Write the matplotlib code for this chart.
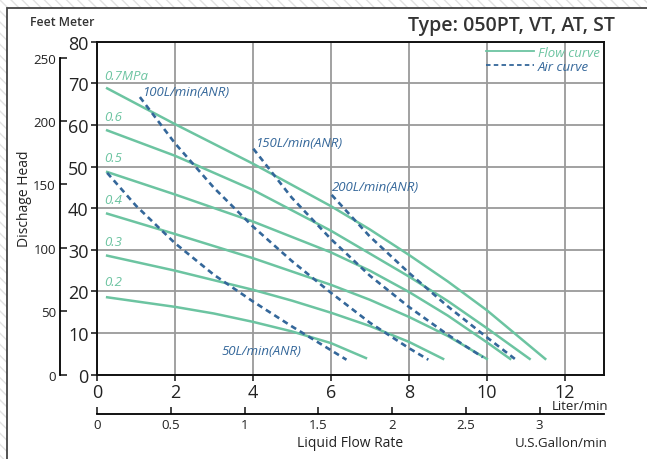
import numpy as np
import matplotlib
matplotlib.use('Agg')
import matplotlib.pyplot as plt
from matplotlib.lines import Line2D
from matplotlib.patches import Rectangle

plt.rcParams['font.family'] = ['Open Sans', 'DejaVu Sans']

# flow curves (x: L/min, y: m) per air pressure
flow_labels = ['0.7MPa', '0.6', '0.5', '0.4', '0.3', '0.2']
flow_x = [
    [0.26, 2, 4, 6, 7, 8, 9, 10, 11.5],
    [0.26, 2, 4, 6, 8, 9, 10, 11.1],
    [0.26, 2, 4, 6, 7, 8, 9, 10, 10.6],
    [0.26, 2, 4, 6, 7, 8, 9, 10],
    [0.26, 2, 4, 5, 6, 7, 8, 8.88],
    [0.26, 2, 3, 4, 5, 6, 6.9],
]
flow_y = [
    [68.8, 60.2, 50.7, 40.5, 34.9, 28.8, 22.4, 15.5, 3.8],
    [58.7, 52.6, 44.4, 34.6, 23.6, 17.7, 11.2, 3.8],
    [48.7, 43.3, 36.8, 29.4, 25.0, 19.9, 14.2, 7.8, 3.8],
    [38.7, 33.8, 28.0, 21.6, 18.0, 13.9, 9.3, 3.8],
    [28.6, 25.0, 20.4, 17.8, 14.9, 11.7, 7.9, 3.8],
    [18.6, 16.3, 14.7, 12.7, 10.4, 7.6, 4.0],
]
flow_label_pos = [(0.18, 71.8), (0.18, 62.1), (0.18, 52.1), (0.18, 42.0), (0.18, 32.1), (0.18, 22.3)]

# air consumption curves
air_labels = ['50L/min(ANR)', '100L/min(ANR)', '150L/min(ANR)', '200L/min(ANR)']
air_x = [
    [0.26, 1, 2, 3, 4, 5, 6, 6.4],
    [1.1, 2, 3, 4, 5, 6, 7, 8, 8.5],
    [4.01, 5, 6, 7, 8, 9, 9.9],
    [6.02, 7, 8, 9, 10, 10.72],
]
air_y = [
    [48.5, 40.6, 31.6, 24.0, 17.6, 11.6, 5.9, 3.6],
    [66.7, 55.6, 44.9, 35.6, 27.3, 19.7, 12.5, 6.4, 3.6],
    [54.3, 42.5, 32.6, 23.8, 16.3, 9.6, 4.2],
    [43.2, 33.2, 24.5, 16.4, 9.0, 3.8],
]
air_label_pos = [(3.2, 5.8), (1.15, 68.1), (4.05, 55.7), (6.02, 45.2)]

x_ticks = [0, 2, 4, 6, 8, 10, 12]
y_ticks = [0, 10, 20, 30, 40, 50, 60, 70, 80]
feet_ticks = [0, 50, 100, 150, 200, 250]
gal_ticks = [0, 0.5, 1, 1.5, 2, 2.5, 3]
gal_labels = ['0', '0.5', '1', '1.5', '2', '2.5', '3']

green = '#6cc4a1'
blue = '#34679a'
grid_c = '#9a9a9a'

fig = plt.figure(figsize=(6.47, 4.60), dpi=100)

# hatched page background and panel frame
fig.add_artist(Rectangle((0, 0), 1, 1, transform=fig.transFigure, facecolor='white',
                         edgecolor='#e2e2e2', hatch='\\\\\\', lw=0, zorder=-3))
fig.add_artist(Rectangle((7 / 647, -0.1), 1.2, 1.1 - 9 / 460, transform=fig.transFigure,
                         facecolor='white', edgecolor='#444444', lw=1.3, zorder=-2))

ax = fig.add_axes([97 / 647, 1 - 375.7 / 460, 506.7 / 647, 333 / 460])

for xs, ys in zip(flow_x, flow_y):
    ax.plot(xs, ys, color=green, lw=1.8, zorder=3, solid_joinstyle='round')
for xs, ys in zip(air_x, air_y):
    ax.plot(xs, ys, color=blue, lw=1.9, ls=(0, (2.2, 1.6)), zorder=4)

for lab, (tx, ty) in zip(flow_labels, flow_label_pos):
    ax.text(tx, ty, lab, color=green, fontsize=9.5, style='italic', va='center', ha='left')
for lab, (tx, ty) in zip(air_labels, air_label_pos):
    ax.text(tx, ty, lab, color=blue, fontsize=9.5, style='italic', va='center', ha='left')

ax.set_xlim(0, 13)
ax.set_ylim(0, 80)
ax.set_xticks(x_ticks)
ax.set_yticks(y_ticks)
ax.tick_params(axis='both', labelsize=13, length=4, width=1.2, colors='#222222')
ax.tick_params(axis='x', pad=2)
ax.tick_params(axis='y', pad=2)
ax.grid(True, color=grid_c, lw=1.3, zorder=0)
for s in ax.spines.values():
    s.set_color('#111111')
    s.set_linewidth(1.4)

# white box behind the legend (covers the grid in the top right corner)
ax.add_patch(Rectangle((10.04 / 13, 70.4 / 80), 3 / 13, 10 / 80, transform=ax.transAxes,
                       facecolor='white', edgecolor='none', zorder=1.5))

# feet scale on the left
feet = ax.secondary_yaxis(-0.073, functions=(lambda m: m / 0.3048, lambda f: f * 0.3048))
feet.set_yticks(feet_ticks)
feet.tick_params(direction='in', length=5, width=1.2, labelsize=9.5, pad=3, colors='#222222')
feet.spines['left'].set_bounds(0, 250)
feet.spines['left'].set_linewidth(1.3)

# US gallon scale below
gal = ax.secondary_xaxis(-0.118, functions=(lambda l: l / 3.785, lambda g: g * 3.785))
gal.set_xticks(gal_ticks)
gal.set_xticklabels(gal_labels)
gal.tick_params(direction='in', length=5, width=1.2, labelsize=9.5, pad=3, colors='#222222')
gal.spines['bottom'].set_linewidth(1.3)

handles = [Line2D([], [], color=green, lw=1.3),
           Line2D([], [], color=blue, lw=1.3, ls=(0, (2.5, 1.8)))]
leg = ax.legend(handles, ['Flow curve', 'Air curve'], loc='upper right', borderaxespad=0.1,
                frameon=False, handlelength=3.6, handletextpad=0.3, labelspacing=0.1,
                borderpad=0.2, prop={'style': 'italic', 'size': 9.5})
for t, c in zip(leg.get_texts(), [green, blue]):
    t.set_color(c)
leg.set_zorder(5)

fig.text(615 / 647, 1 - 25.5 / 460, 'Type: 050PT, VT, AT, ST', ha='right', va='center',
         fontsize=14, fontweight='semibold', color='#333333')
fig.text(30 / 647, 1 - 23 / 460, 'Feet Meter', ha='left', va='center', fontsize=8.8,
         fontweight='semibold', color='#333333')
fig.text(25 / 647, 1 - 199 / 460, 'Dischage Head', ha='center', va='center', rotation=90,
         fontsize=10, color='#222222')
fig.text(580 / 647, 1 - 407 / 460, 'Liter/min', ha='center', va='center', fontsize=9.5,
         color='#222222')
fig.text(350 / 647, 1 - 443.3 / 460, 'Liquid Flow Rate', ha='center', va='center', fontsize=10,
         color='#222222')
fig.text(561 / 647, 1 - 444 / 460, 'U.S.Gallon/min', ha='center', va='center', fontsize=9.5,
         color='#222222')

fig.savefig('out.png', dpi=100)
